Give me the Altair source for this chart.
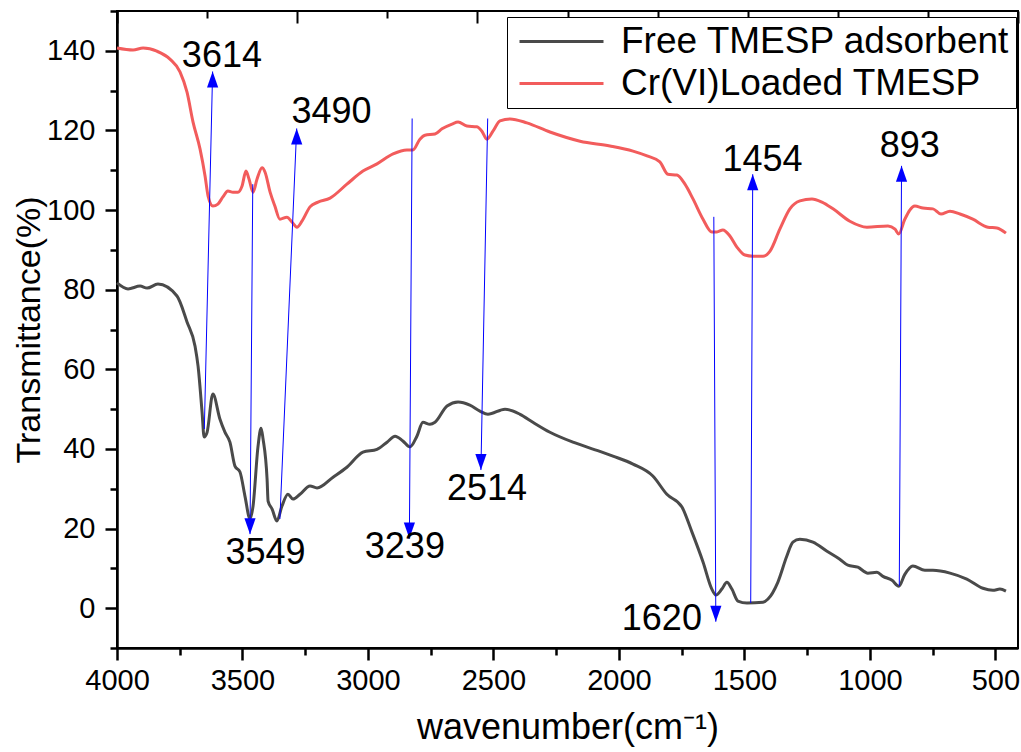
import altair as alt
import pandas as pd

FONT = "Liberation Sans, Arial, sans-serif"

# ---------------- data ----------------
series_names = ["Free TMESP adsorbent", "Cr(VI)Loaded TMESP"]
series_colors = ["#4a4a4a", "#f25c5c"]

wn_free = [4000, 3956, 3908, 3880, 3837, 3761, 3721, 3689, 3677, 3661, 3653, 3641, 3618, 3590,
           3570, 3550, 3530, 3510, 3490, 3470, 3458, 3438, 3426, 3418, 3402, 3398, 3382, 3363,
           3343, 3319, 3299, 3271, 3231, 3203, 3139, 3084, 3020, 2964, 2924, 2892, 2861, 2833,
           2805, 2781, 2753, 2733, 2685, 2641, 2594, 2554, 2522, 2454, 2394, 2343, 2275, 2183,
           2076, 2024, 1944, 1865, 1809, 1749, 1709, 1665, 1630, 1614, 1590, 1570, 1550, 1526,
           1490, 1426, 1406, 1367, 1331, 1307, 1279, 1227, 1171, 1120, 1088, 1048, 1008, 972,
           948, 912, 885, 861, 829, 781, 749, 681, 614, 550, 510, 482, 458]
t_free = [81.7, 80.2, 80.9, 80.4, 81.4, 78.4, 71.9, 65.8, 60.8, 49.2, 43.0, 44.2, 53.8, 47.5,
          44.2, 41.7, 35.7, 34.2, 28.1, 22.4, 25.6, 40.7, 45.2, 42.5, 32.4, 26.9, 24.9, 21.9,
          25.6, 28.6, 27.4, 28.6, 30.7, 30.2, 32.9, 35.4, 39.2, 39.9, 41.7, 43.2, 42.0, 40.5,
          43.2, 46.7, 46.2, 46.7, 50.8, 51.8, 51.0, 49.5, 48.7, 50.0, 48.7, 46.7, 44.2, 41.7,
          39.4, 38.2, 36.2, 33.2, 28.6, 25.4, 19.1, 11.6, 4.8, 3.3, 4.8, 6.5, 4.8, 1.8,
          1.3, 1.5, 2.3, 6.5, 13.1, 16.6, 17.3, 16.6, 14.3, 12.3, 10.8, 10.3, 8.8, 9.0,
          8.0, 7.0, 5.5, 8.5, 10.6, 9.5, 9.5, 8.8, 7.3, 5.0, 4.5, 4.8, 4.3]

wn_cr = [4000, 3936, 3896, 3841, 3789, 3749, 3721, 3697, 3669, 3649, 3637, 3618, 3598, 3578,
         3558, 3538, 3518, 3502, 3486, 3474, 3458, 3442, 3422, 3410, 3390, 3371, 3351, 3323,
         3303, 3283, 3263, 3231, 3199, 3151, 3084, 3020, 2964, 2900, 2845, 2821, 2793, 2773,
         2733, 2705, 2665, 2641, 2606, 2566, 2546, 2526, 2502, 2474, 2434, 2367, 2275, 2155,
         2036, 1944, 1888, 1837, 1805, 1769, 1737, 1705, 1665, 1630, 1610, 1586, 1558, 1530,
         1498, 1466, 1426, 1398, 1359, 1319, 1279, 1231, 1191, 1147, 1080, 1012, 928, 900,
         885, 861, 821, 789, 749, 717, 681, 641, 590, 530, 494, 458]
t_cr = [140.7, 140.2, 140.7, 139.9, 137.9, 134.7, 129.6, 122.1, 115.3, 108.5, 103.5, 101.0, 101.5, 103.3,
        104.8, 104.5, 104.5, 106.0, 109.8, 107.8, 104.5, 107.8, 110.6, 109.5, 104.5, 101.0, 97.7, 98.2,
        97.0, 95.7, 97.2, 100.8, 102.0, 103.0, 106.5, 109.8, 111.6, 114.1, 115.1, 115.1, 117.8, 118.8,
        119.1, 120.4, 121.6, 122.1, 121.1, 120.9, 119.8, 117.8, 119.8, 122.4, 122.9, 121.9, 119.6, 117.3,
        116.1, 114.8, 113.6, 112.1, 109.0, 108.8, 106.5, 102.8, 97.7, 94.5, 94.5, 95.0, 93.5, 90.7,
        88.7, 88.4, 88.4, 89.7, 95.2, 100.3, 102.3, 102.8, 102.0, 100.3, 97.2, 95.7, 96.0, 95.2,
        94.0, 97.7, 101.0, 100.5, 100.3, 99.0, 99.7, 99.0, 97.7, 95.7, 95.5, 94.2]

# peak annotations (arrow from start to tip, label position)
peak_labels = ["3614", "3549", "3490", "3239", "2514", "1620", "1454", "893"]
arrow_x0 = [3652, 3459, 3351, 2824, 2523, 1622, 1475, 883]
arrow_y0 = [45.0, 106.5, 22.4, 123.0, 123.0, 98.3, 1.3, 5.6]
arrow_x1 = [3619, 3470, 3284, 2835, 2550, 1614, 1467, 874]
arrow_y1 = [134.8, 18.6, 120.5, 17.5, 34.7, -3.4, 109.0, 111.1]
arrow_dir = ["up", "down", "up", "down", "down", "down", "up", "up"]
label_x = [3582, 3408, 3145, 2853, 2526, 1829, 1428, 841]
label_y = [138.7, 13.8, 124.6, 15.3, 30.0, -2.6, 112.6, 116.0]

x_ticks = [4000, 3750, 3500, 3250, 3000, 2750, 2500, 2250, 2000, 1750, 1500, 1250, 1000, 750, 500]
y_ticks = [-10, 0, 10, 20, 30, 40, 50, 60, 70, 80, 90, 100, 110, 120, 130, 140, 150]
top_ticks = [4000, 3641, 3282, 2923, 2564, 2205, 1846, 1487, 1128, 769, 410]
top_major = [4000, 3282, 2564, 1846, 1128, 410]

# ---------------- tables ----------------
df_lines = pd.concat([
    pd.DataFrame({"wn": wn_free, "t": t_free, "series": series_names[0], "idx": range(len(wn_free))}),
    pd.DataFrame({"wn": wn_cr, "t": t_cr, "series": series_names[1], "idx": range(len(wn_cr))}),
], ignore_index=True)

df_ann = pd.DataFrame({
    "label": peak_labels, "x0": arrow_x0, "y0": arrow_y0, "x1": arrow_x1, "y1": arrow_y1,
    "dir": arrow_dir, "lx": label_x, "ly": label_y,
})

W, H = 901, 637
xscale = alt.Scale(domain=[4000, 410], nice=False, zero=False)
yscale = alt.Scale(domain=[-10, 150], nice=False, zero=False)

x_axis = alt.Axis(
    values=x_ticks, format="d",
    labelExpr="datum.value % 500 == 0 ? datum.label : ''",
    tickSize={"condition": {"test": "datum.value % 500 == 0", "value": 12}, "value": 7},
    tickWidth=2.5, tickColor="black", domainColor="black", domainWidth=2.5,
    labelFont=FONT, labelFontSize=29, labelColor="black", labelPadding=6,
    labelFlush=False, labelOverlap=False,
    grid=False, title="wavenumber(cm\u207b\u00b9)", titleFont=FONT, titleFontSize=36,
    titleFontWeight="normal", titleColor="black",
    titleX=W / 2, titleY=90, titleBaseline="alphabetic", titleAlign="center",
)
y_axis = alt.Axis(
    values=y_ticks,
    labelExpr="datum.value % 20 == 0 ? datum.label : ''",
    tickSize={"condition": {"test": "datum.value % 20 == 0", "value": 12}, "value": 7},
    tickWidth=2.5, tickColor="black", domainColor="black", domainWidth=2.5,
    labelFont=FONT, labelFontSize=29, labelColor="black", labelPadding=10,
    labelFlush=False, labelOverlap=False,
    grid=False, title="Transmittance(%)", titleFont=FONT, titleFontSize=34,
    titleFontWeight="normal", titleColor="black",
    titleX=-78, titleY=H / 2, titleAngle=270, titleBaseline="alphabetic", titleAlign="center",
)
top_axis = alt.Axis(
    orient="bottom", offset=-H, values=top_ticks, labels=False, domain=False, title=None,
    grid=False, tickColor="black", tickWidth=2,
    tickSize={"condition": {"test": "indexof(%s, datum.value) >= 0" % str(top_major), "value": 12},
              "value": 7},
)

lines = alt.Chart(df_lines).mark_line(interpolate="monotone", strokeWidth=3).encode(
    x=alt.X("wn:Q", scale=xscale, axis=x_axis),
    y=alt.Y("t:Q", scale=yscale, axis=y_axis),
    color=alt.Color(
        "series:N",
        scale=alt.Scale(domain=series_names, range=series_colors),
        sort=series_names,
        legend=alt.Legend(
            orient="none", legendX=390, legendY=6, title=None,
            symbolType="M-1,0L6,0", symbolSize=576, symbolStrokeWidth=3,
            labelFont=FONT, labelFontSize=37, labelColor="black", labelOffset=71,
            padding=6, rowPadding=4, strokeColor="black", fillColor="white",
            labelLimit=600,
        ),
    ),
    order=alt.Order("idx:Q"),
)

rules = alt.Chart(df_ann).mark_rule(color="#0000ff", strokeWidth=1).encode(
    x=alt.X("x0:Q", scale=xscale, axis=None),
    y=alt.Y("y0:Q", scale=yscale, axis=y_axis),
    x2="x1:Q",
    y2="y1:Q",
)

heads = alt.Chart(df_ann).mark_point(filled=True, size=1024, opacity=1, color="#0000ff").encode(
    x=alt.X("x1:Q", scale=xscale, axis=None),
    y=alt.Y("y1:Q", scale=yscale, axis=y_axis),
    shape=alt.Shape("dir:N", scale=alt.Scale(
        domain=["up", "down"],
        range=["M0,0L0.35,1L-0.35,1Z", "M0,0L0.35,-1L-0.35,-1Z"]), legend=None),
)

texts = alt.Chart(df_ann).mark_text(
    font=FONT, fontSize=36, color="black", align="center", baseline="middle"
).encode(
    x=alt.X("lx:Q", scale=xscale, axis=top_axis),
    y=alt.Y("ly:Q", scale=yscale, axis=y_axis),
    text="label:N",
)

chart = alt.layer(lines, rules, heads, texts).resolve_axis(x="independent", y="shared").properties(
    width=W, height=H,
    padding={"left": 117, "top": 11, "right": 3, "bottom": 104},
    autosize=alt.AutoSizeParams(type="none"),
    background="white",
).configure_view(stroke="black", strokeWidth=2)

chart.save("out.html", embed_options={"renderer": "svg", "actions": False})
